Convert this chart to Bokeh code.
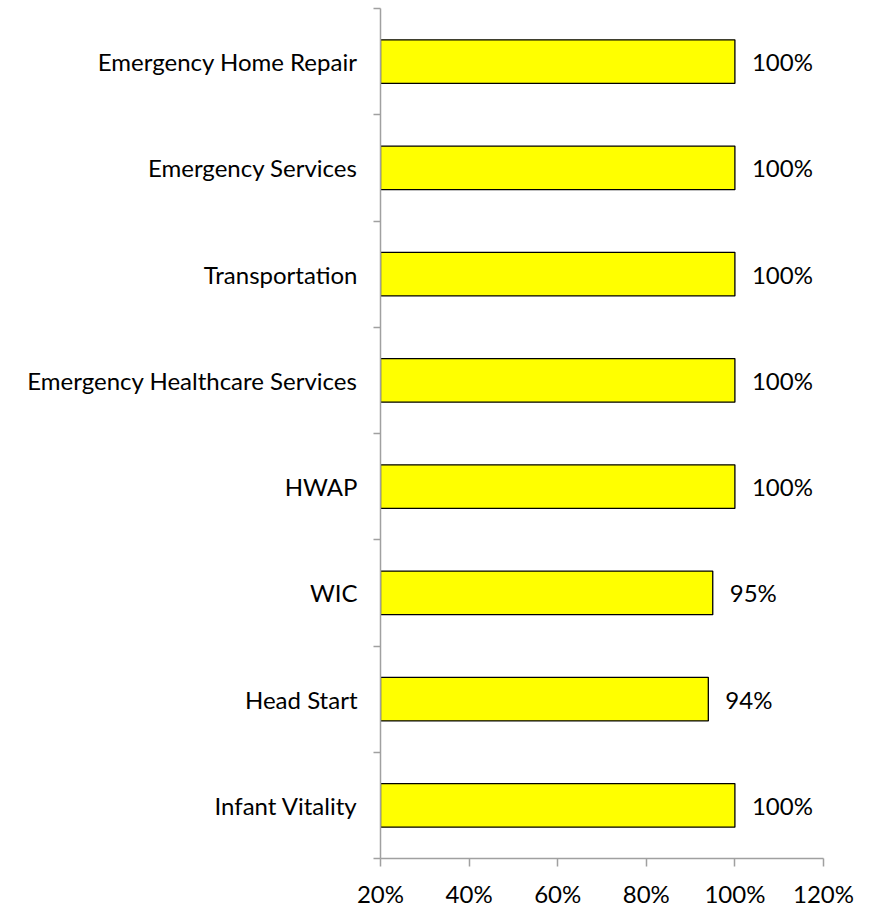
from bokeh.plotting import figure
from bokeh.models import FixedTicker, PrintfTickFormatter, ColumnDataSource, Range1d
from bokeh.core.properties import value
from bokeh.embed import file_html
from bokeh.resources import INLINE

categories = ["Emergency Home Repair", "Emergency Services", "Transportation",
              "Emergency Healthcare Services", "HWAP", "WIC", "Head Start", "Infant Vitality"]
values = [100, 100, 100, 100, 100, 95, 94, 100]
x_ticks = [20, 40, 60, 80, 100, 120]

n = len(categories)
ypos = [n - i - 0.5 for i in range(n)]
labels = [f"{v}%" for v in values]
src = ColumnDataSource(dict(y=ypos, v=values, lab=labels))

FONT = "Lato"
FS = "24px"
p = figure(width=873, height=910, output_backend="svg", toolbar_location=None,
           x_range=Range1d(20, 120), y_range=Range1d(0, n),
           min_border_left=380, min_border_right=50, min_border_top=8, min_border_bottom=52)
p.outline_line_color = None
p.grid.visible = False

p.hbar(y="y", left=20, right="v", height=0.41, source=src,
       fill_color="#FFFF00", line_color="black", line_width=1.3)
p.text(x="v", y="y", text="lab", source=src, x_offset=17, text_align="left",
       text_baseline="middle", text_font=value(FONT), text_font_size=FS,
       text_color="black")

xa = p.xaxis[0]
xa.ticker = FixedTicker(ticks=x_ticks)
xa.formatter = PrintfTickFormatter(format="%d%%")
xa.major_tick_out = 8
xa.major_tick_in = 0
xa.minor_tick_out = 0
xa.minor_tick_in = 0
xa.axis_line_color = "#a0a0a0"
xa.major_tick_line_color = "#a0a0a0"
xa.axis_line_width = 1.5
xa.major_tick_line_width = 1.5
xa.major_label_text_font = FONT
xa.major_label_text_font_size = FS
xa.major_label_text_color = "black"
xa.major_label_standoff = 12

ya = p.yaxis[0]
ya.ticker = FixedTicker(ticks=ypos, minor_ticks=list(range(n + 1)))
ya.major_label_overrides = {y: c for y, c in zip(ypos, categories)}
ya.major_tick_out = 0
ya.major_tick_in = 0
ya.minor_tick_out = 7
ya.minor_tick_in = 0
ya.axis_line_color = "#a0a0a0"
ya.minor_tick_line_color = "#a0a0a0"
ya.axis_line_width = 1.5
ya.minor_tick_line_width = 1.5
ya.major_label_text_font = FONT
ya.major_label_text_font_size = FS
ya.major_label_text_color = "black"
ya.major_label_standoff = 16

open("out.html", "w").write(file_html(p, INLINE))
